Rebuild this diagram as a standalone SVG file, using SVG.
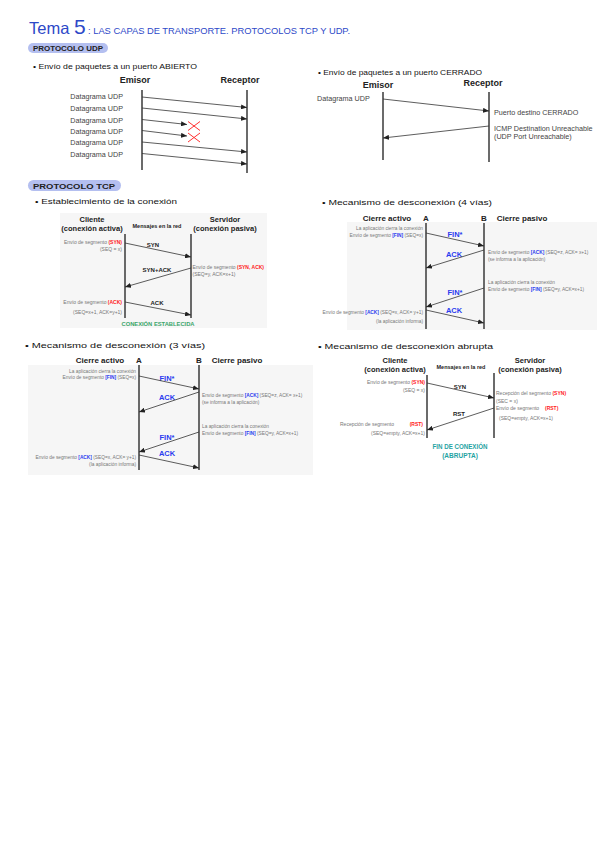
<svg xmlns="http://www.w3.org/2000/svg" width="599" height="848" viewBox="0 0 599 848">
<style>
text{font-family:"Liberation Sans",Arial,sans-serif}
.hd{font-size:8px;fill:#111}
.ttl{fill:#2d48c8}
.pill{fill:#b4bff0}
.pt{font-size:7px;fill:#222;font-weight:bold}
.life{stroke:#3a3a3a;stroke-width:1.5}
.arr{stroke:#333;stroke-width:0.8;fill:none;marker-end:url(#ah)}
.dg{font-size:7.2px;fill:#444}
.hb{font-size:9px;font-weight:bold;fill:#222;text-anchor:middle}
.h2{font-size:7.5px;font-weight:bold;fill:#222;text-anchor:middle}
.h3{font-size:8px;font-weight:bold;fill:#222;text-anchor:middle}
.mr{font-size:5.5px;font-weight:bold;fill:#222;text-anchor:middle}
.sm{font-size:5px;fill:#777}
.xs{font-size:4.8px;fill:#777}
.r{fill:#ff2020;font-weight:bold}
.b{fill:#2a3bef;font-weight:bold}
.lb{font-size:6px;font-weight:bold;fill:#222;text-anchor:middle}
.bl{font-size:7.5px;font-weight:bold;fill:#2a3bef;text-anchor:middle}
.end{text-anchor:end}
.bg{fill:#f6f6f6}
.x{stroke:#ff3030;stroke-width:1}
</style>
<defs>
<marker id="ah" markerUnits="userSpaceOnUse" markerWidth="6" markerHeight="5" refX="6" refY="2.5" orient="auto">
<path d="M0,0 L6,2.5 L0,5 z" fill="#222"/>
</marker>
</defs>
<rect width="599" height="848" fill="#fff"/>

<g id="title">
<text class="ttl" x="29" y="34"><tspan font-size="16.5">Tema </tspan><tspan font-size="21">5</tspan></text>
<text class="ttl" x="88" y="34" font-size="8.5" textLength="262" lengthAdjust="spacingAndGlyphs">: LAS CAPAS DE TRANSPORTE. PROTOCOLOS TCP Y UDP.</text>
</g>

<g id="udp-header">
<rect class="pill" x="28" y="43" width="80" height="10" rx="5"/>
<text class="pt" x="33" y="50.5" textLength="70" lengthAdjust="spacingAndGlyphs">PROTOCOLO UDP</text>
</g>

<!-- UDP open -->
<g id="udp-open">
<text class="hd" x="33" y="69" textLength="164" lengthAdjust="spacingAndGlyphs">• Envío de paquetes a un puerto ABIERTO</text>
<g id="udp-open-emisor">
<text class="hb" x="135" y="83">Emisor</text>
<line class="life" x1="142" y1="90" x2="142" y2="170"/>
<text class="dg end" x="123" y="98.5">Datagrama UDP</text>
<text class="dg end" x="123" y="111">Datagrama UDP</text>
<text class="dg end" x="123" y="122.5">Datagrama UDP</text>
<text class="dg end" x="123" y="134">Datagrama UDP</text>
<text class="dg end" x="123" y="145">Datagrama UDP</text>
<text class="dg end" x="123" y="156.5">Datagrama UDP</text>
</g>
<g id="udp-open-receptor">
<text class="hb" x="240" y="83">Receptor</text>
<line class="life" x1="247" y1="90" x2="247" y2="173"/>
</g>
<g id="udp-open-lost">
<line class="x" x1="188" y1="121.5" x2="200" y2="130.5"/>
<line class="x" x1="200" y1="121.5" x2="188" y2="130.5"/>
<line class="x" x1="188" y1="133" x2="200" y2="142"/>
<line class="x" x1="200" y1="133" x2="188" y2="142"/>
</g>
</g>

<!-- UDP closed -->
<g id="udp-closed">
<text class="hd" x="318" y="75" textLength="164" lengthAdjust="spacingAndGlyphs">• Envío de paquetes a un puerto CERRADO</text>
<g id="udp-closed-emisor">
<text class="hb" x="378" y="88">Emisor</text>
<line class="life" x1="383" y1="92" x2="383" y2="160"/>
<text class="dg" x="317" y="100.5" font-size="7.1">Datagrama UDP</text>
</g>
<g id="udp-closed-receptor">
<text class="hb" x="483" y="86">Receptor</text>
<line class="life" x1="489" y1="92" x2="489" y2="162"/>
<text class="dg" x="494" y="114.5" font-size="7.1">Puerto destino CERRADO</text>
<text class="dg" x="494" y="130.5" font-size="7.1">ICMP Destination Unreachable</text>
<text class="dg" x="494" y="138.5" font-size="7.1">(UDP Port Unreachable)</text>
</g>
</g>

<g id="tcp-header">
<rect class="pill" x="28" y="180" width="93" height="11" rx="5.5"/>
<text class="pt" x="33" y="188.5" textLength="82" lengthAdjust="spacingAndGlyphs">PROTOCOLO TCP</text>
</g>

<!-- TCP establishment -->
<g id="tcp-establish">
<text class="hd" x="35" y="204" textLength="142" lengthAdjust="spacingAndGlyphs">• Establecimiento de la conexión</text>
<rect class="bg" x="60" y="213" width="207" height="115"/>
<g id="est-cliente">
<text class="h2" x="92" y="221.5">Cliente</text>
<text class="h2" x="92" y="230.5">(conexión activa)</text>
<line class="life" x1="125" y1="234" x2="125" y2="318"/>
<text class="sm end" x="122" y="243.7">Envío de segmento <tspan class="r">(SYN)</tspan></text>
<text class="sm end" x="122" y="251">(SEQ = x)</text>
<text class="sm end" x="122" y="303.7">Envío de segmento <tspan class="r">(ACK)</tspan></text>
<text class="sm end" x="122" y="314">(SEQ=x+1, ACK=y+1)</text>
</g>
<g id="est-red">
<text class="mr" x="157" y="228">Mensajes en la red</text>
<text class="lb" x="153" y="247">SYN</text>
<text class="lb" x="157" y="272">SYN+ACK</text>
<text class="lb" x="157" y="305">ACK</text>
<text x="158" y="326" font-size="6" font-weight="bold" fill="#3aa56a" text-anchor="middle" textLength="73" lengthAdjust="spacingAndGlyphs">CONEXIÓN ESTABLECIDA</text>
</g>
<g id="est-servidor">
<text class="h2" x="225" y="221.5">Servidor</text>
<text class="h2" x="225" y="230.5">(conexión pasiva)</text>
<line class="life" x1="191" y1="234" x2="191" y2="318"/>
<text class="sm" x="192.5" y="268.5">Envío de  segmento <tspan class="r">(SYN, ACK)</tspan></text>
<text class="sm" x="192.5" y="276">(SEQ=y, ACK=x+1)</text>
</g>
</g>

<!-- 4 vias -->
<g id="tcp-close4">
<text class="hd" x="322" y="205" textLength="170" lengthAdjust="spacingAndGlyphs">• Mecanismo de desconexión (4 vías)</text>
<rect class="bg" x="347" y="222" width="250" height="108"/>
<g id="c4-A">
<text class="h3" x="387" y="221">Cierre activo</text>
<text class="h3" x="426" y="221">A</text>
<line class="life" x1="426" y1="223" x2="426" y2="329"/>
<text class="xs end" x="423" y="229.5">La aplicación cierra la conexión</text>
<text class="xs end" x="423" y="236.5">Envío de segmento <tspan class="b">[FIN]</tspan> (SEQ=x)</text>
<text class="xs end" x="423" y="313.5">Envío de segmento <tspan class="b">[ACK]</tspan> (SEQ=x, ACK= y+1)</text>
<text class="xs end" x="423" y="322.5">(la aplicación informa)</text>
</g>
<g id="c4-labels">
<text class="bl" x="455" y="237">FIN*</text>
<text class="bl" x="454" y="256.5">ACK</text>
<text class="bl" x="455" y="294.5">FIN*</text>
<text class="bl" x="454" y="312.5">ACK</text>
</g>
<g id="c4-B">
<text class="h3" x="484" y="221">B</text>
<text class="h3" x="522" y="221">Cierre pasivo</text>
<line class="life" x1="484" y1="223" x2="484" y2="329"/>
<text class="xs" x="488" y="253.5">Envío de segmento <tspan class="b">[ACK]</tspan> (SEQ=z, ACK= x+1)</text>
<text class="xs" x="488" y="260.5">(se informa a la aplicación)</text>
<text class="xs" x="488" y="283.5">La aplicación cierra la conexión</text>
<text class="xs" x="488" y="290.5">Envío de segmento <tspan class="b">[FIN]</tspan> (SEQ=y, ACK=x+1)</text>
</g>
</g>

<!-- 3 vias -->
<g id="tcp-close3">
<text class="hd" x="25" y="348" textLength="180" lengthAdjust="spacingAndGlyphs">• Mecanismo de desconexión (3 vías)</text>
<rect class="bg" x="28" y="365" width="285" height="110"/>
<g id="c3-A">
<text class="h3" x="100" y="363">Cierre activo</text>
<text class="h3" x="139" y="363">A</text>
<line class="life" x1="139" y1="365" x2="139" y2="470"/>
<text class="xs end" x="136" y="372.5">La aplicación cierra la conexión</text>
<text class="xs end" x="136" y="379">Envío de segmento <tspan class="b">[FIN]</tspan> (SEQ=x)</text>
<text class="xs end" x="136" y="458.5">Envío de segmento <tspan class="b">[ACK]</tspan> (SEQ=x, ACK= y+1)</text>
<text class="xs end" x="136" y="465.5">(la aplicación informa)</text>
</g>
<g id="c3-labels">
<text class="bl" x="167" y="380.5">FIN*</text>
<text class="bl" x="167" y="399.5">ACK</text>
<text class="bl" x="167" y="439.5">FIN*</text>
<text class="bl" x="167" y="455.5">ACK</text>
</g>
<g id="c3-B">
<text class="h3" x="199" y="363">B</text>
<text class="h3" x="237" y="363">Cierre pasivo</text>
<line class="life" x1="199" y1="365" x2="199" y2="470"/>
<text class="xs" x="202" y="396.5">Envío de segmento <tspan class="b">[ACK]</tspan> (SEQ=z, ACK= x+1)</text>
<text class="xs" x="202" y="403.5">(se informa a la aplicación)</text>
<text class="xs" x="202" y="427.5">La aplicación cierra la conexión</text>
<text class="xs" x="202" y="434.5">Envío de segmento <tspan class="b">[FIN]</tspan> (SEQ=y, ACK=x+1)</text>
</g>
</g>

<!-- abrupta -->
<g id="tcp-abrupt">
<text class="hd" x="318" y="349" textLength="175" lengthAdjust="spacingAndGlyphs">• Mecanismo de desconexión abrupta</text>
<g id="ab-cliente">
<text class="h2" x="395" y="362.5">Cliente</text>
<text class="h2" x="395" y="371.5">(conexión activa)</text>
<line class="life" x1="427" y1="375" x2="427" y2="438"/>
<text class="sm end" x="425" y="383.7">Envío de segmento <tspan class="r">(SYN)</tspan></text>
<text class="sm end" x="425" y="391.5">(SEQ = x)</text>
<text class="sm" x="340" y="425.7">Recepción de segmento</text>
<text class="sm end" x="423" y="425.7"><tspan class="r">(RST)</tspan></text>
<text class="sm end" x="425" y="434.5">(SEQ=empty, ACK=x+1)</text>
</g>
<g id="ab-red">
<text class="mr" x="461" y="369">Mensajes en la red</text>
<text class="lb" x="460" y="389">SYN</text>
<text class="lb" x="459" y="416">RST</text>
<text x="460" y="448.5" font-size="6.5" font-weight="bold" fill="#1fa3a3" text-anchor="middle" textLength="55" lengthAdjust="spacingAndGlyphs">FIN DE CONEXIÓN</text>
<text x="460" y="457.5" font-size="6.5" font-weight="bold" fill="#1fa3a3" text-anchor="middle">(ABRUPTA)</text>
</g>
<g id="ab-servidor">
<text class="h2" x="530" y="362.5">Servidor</text>
<text class="h2" x="530" y="371.5">(conexión pasiva)</text>
<line class="life" x1="494" y1="373" x2="494" y2="438"/>
<text class="sm" x="496" y="394.7">Recepción del segmento <tspan class="r">(SYN)</tspan></text>
<text class="sm" x="496" y="402.5">(SEC = x)</text>
<text class="sm" x="496" y="409.7">Envío de  segmento</text>
<text class="sm" x="545" y="409.7"><tspan class="r">(RST)</tspan></text>
<text class="sm" x="499" y="419.5">(SEQ=empty, ACK=x+1)</text>
</g>
</g>

<g id="connectors">
<line class="arr" x1="142" y1="97" x2="247" y2="107.5"/>
<line class="arr" x1="142" y1="108" x2="247" y2="119"/>
<line class="arr" x1="142" y1="119.5" x2="187" y2="124.5"/>
<line class="arr" x1="142" y1="130.5" x2="187" y2="136"/>
<line class="arr" x1="142" y1="142" x2="247" y2="152"/>
<line class="arr" x1="142" y1="153.5" x2="247" y2="164"/>

<line class="arr" x1="383" y1="99" x2="489" y2="111"/>
<line class="arr" x1="489" y1="126" x2="383" y2="138"/>

<line class="arr" x1="125" y1="243" x2="191" y2="257"/>
<line class="arr" x1="191" y1="268" x2="125" y2="287"/>
<line class="arr" x1="125" y1="302" x2="191" y2="315"/>

<line class="arr" x1="426" y1="233" x2="484" y2="246"/>
<line class="arr" x1="484" y1="250" x2="426" y2="268"/>
<line class="arr" x1="484" y1="288" x2="426" y2="307"/>
<line class="arr" x1="426" y1="310" x2="484" y2="323"/>

<line class="arr" x1="139" y1="376" x2="199" y2="389"/>
<line class="arr" x1="199" y1="392" x2="139" y2="412"/>
<line class="arr" x1="199" y1="432" x2="139" y2="452"/>
<line class="arr" x1="139" y1="455" x2="199" y2="468"/>

<line class="arr" x1="427" y1="383" x2="494" y2="398"/>
<line class="arr" x1="494" y1="408" x2="427" y2="430"/>
</g>
</svg>
